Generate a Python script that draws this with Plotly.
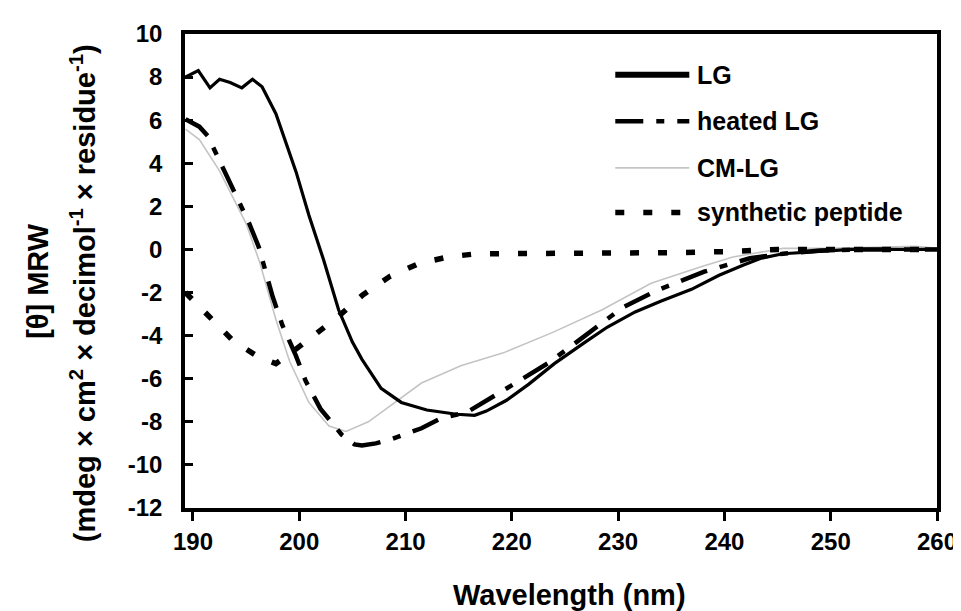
import plotly.graph_objects as go

# ---- data ----
lg_x = [189.3, 190.5, 191.6, 192.5, 193.5, 194.6, 195.6, 196.5, 197.8, 199.7, 200.9, 202.3,
        203.7, 205.0, 205.9, 207.7, 209.6, 212.0, 214.8, 216.5, 217.6, 219.5, 221.6, 224.0,
        226.9, 229.0, 231.6, 234.0, 236.9, 239.5, 241.8, 243.5, 245.5, 248.6, 252.0, 256.0, 260.0]
lg_y = [8.0, 8.3, 7.5, 7.9, 7.75, 7.5, 7.9, 7.55, 6.3, 3.6, 1.6, -0.5,
        -2.8, -4.3, -5.1, -6.45, -7.1, -7.45, -7.65, -7.7, -7.5, -7.0, -6.25, -5.3,
        -4.3, -3.6, -2.9, -2.4, -1.85, -1.2, -0.72, -0.4, -0.2, -0.1, 0.0, 0.0, 0.0]

heated_x = [189.3, 190.6, 191.4, 192.8, 194.0, 195.3, 196.2, 197.5, 198.4, 199.7, 200.6, 202.0,
            204.0, 205.2, 205.9, 207.2, 208.7, 211.5, 213.3, 215.8, 218.9, 221.0, 223.5, 226.9,
            230.4, 233.8, 238.1, 242.4, 245.5, 249.0, 253.0, 260.0]
heated_y = [6.04, 5.7, 5.26, 3.8, 2.5, 1.2, 0.1, -2.2, -3.5, -4.95, -6.1, -7.4,
            -8.6, -9.05, -9.1, -9.0, -8.8, -8.3, -7.85, -7.55, -6.63, -6.0, -5.25, -4.0,
            -2.7, -1.87, -1.03, -0.41, -0.2, -0.05, 0.0, 0.0]

cm_x = [189.3, 190.6, 192.5, 195.0, 196.3, 197.8, 199.1, 200.9, 202.8, 204.4, 206.5, 209.0,
        211.5, 215.2, 219.2, 223.8, 228.5, 233.1, 237.8, 240.8, 245.5, 250.0, 255.0, 258.0, 260.0]
cm_y = [5.58, 5.1, 3.65, 1.2, -0.63, -3.25, -5.2, -7.1, -8.2, -8.45, -8.0, -7.1,
        -6.2, -5.4, -4.8, -3.86, -2.8, -1.57, -0.8, -0.35, 0.05, 0.05, 0.1, 0.15, 0.05]

pep_x = [189.3, 190.5, 191.6, 193.8, 196.2, 197.8, 199.5, 201.5, 203.7, 206.0, 208.5, 211.3,
         214.1, 216.7, 220.0, 225.0, 230.0, 235.0, 240.0, 245.0, 250.0, 255.0, 260.0]
pep_y = [-2.0, -2.6, -3.1, -4.25, -5.0, -5.3, -4.7, -3.95, -3.1, -2.1, -1.26, -0.64,
         -0.34, -0.2, -0.2, -0.2, -0.15, -0.15, -0.1, 0.0, 0.0, 0.0, 0.0]

series_names = ["LG", "heated LG", "CM-LG", "synthetic peptide"]
x_ticks = [190, 200, 210, 220, 230, 240, 250, 260]
y_ticks = [10, 8, 6, 4, 2, 0, -2, -4, -6, -8, -10, -12]

FONT = "Liberation Sans, Arial, sans-serif"

styles = [
    dict(color="black", width=3.2, dash="solid"),
    dict(color="black", width=4.5, dash="28px,13px,8px,13px"),
    dict(color="#c4c4c4", width=1.6, dash="solid"),
    dict(color="black", width=5.5, dash="9px,19px"),
]

fig = go.Figure()
for name, xs, ys, st in zip(series_names, [lg_x, heated_x, cm_x, pep_x],
                            [lg_y, heated_y, cm_y, pep_y], styles):
    fig.add_trace(go.Scatter(x=xs, y=ys, mode="lines", name=name, line=st,
                             showlegend=False))

# draw order: put LG on top
fig.data = (fig.data[2], fig.data[3], fig.data[1], fig.data[0])

W, H = 961, 611
ML, MR, MT, MB = 177, 22, 22, 111
PW, PH = W - ML - MR, H - MT - MB


def px(xp):
    return (xp - ML) / PW


def py(yp):
    return (H - MB - yp) / PH


# ---- manual legend ----
leg_y = [63, 110, 157, 202]
for name, st, yp in zip(series_names, styles, leg_y):
    lw = 6 if name == "LG" else st["width"]
    fig.add_shape(type="line", xref="paper", yref="paper",
                  x0=px(613), x1=px(688), y0=py(yp), y1=py(yp),
                  line=dict(color=st["color"], width=lw, dash=st["dash"]))
    fig.add_annotation(xref="paper", yref="paper", x=px(694), y=py(yp),
                       text=name, showarrow=False, xanchor="left", yanchor="middle",
                       font=dict(family=FONT, size=25, color="black", weight="bold"))

# ---- axis titles as annotations ----
fig.add_annotation(xref="paper", yref="paper", x=px(567), y=py(588),
                   text="Wavelength (nm)", showarrow=False, xanchor="center", yanchor="middle",
                   font=dict(family=FONT, size=29, color="black", weight="bold"))
fig.add_annotation(xref="paper", yref="paper", x=px(28), y=py(271),
                   text="[θ] MRW", showarrow=False, textangle=-90,
                   xanchor="center", yanchor="middle",
                   font=dict(family=FONT, size=29, color="black", weight="bold"))
fig.add_annotation(xref="paper", yref="paper", x=px(73), y=py(283),
                   text="(mdeg × cm<sup>2</sup> × decimol<sup>-1</sup> × residue<sup>-1</sup>)",
                   showarrow=False, textangle=-90, xanchor="center", yanchor="middle",
                   font=dict(family=FONT, size=29, color="black", weight="bold"))

fig.update_layout(
    width=W, height=H,
    margin=dict(l=ML, r=MR, t=MT, b=MB),
    paper_bgcolor="white", plot_bgcolor="white",
    showlegend=False,
    font=dict(family=FONT, color="black"),
)
fig.update_xaxes(range=[189.25, 260], tickvals=x_ticks, ticktext=[str(v) for v in x_ticks],
                 showgrid=False, zeroline=False, showline=True, mirror=True,
                 linecolor="black", linewidth=3.5, ticks="outside", ticklen=9,
                 tickwidth=3, tickcolor="black",
                 tickfont=dict(family=FONT, size=24, color="black", weight="bold"))
fig.update_yaxes(range=[-12, 10], tickvals=y_ticks, ticktext=[str(v) for v in y_ticks],
                 showgrid=False, zeroline=False, showline=True, mirror=True,
                 linecolor="black", linewidth=3.5, ticks="inside", ticklen=8,
                 tickwidth=3, tickcolor="black", ticklabelstandoff=14,
                 tickfont=dict(family=FONT, size=24, color="black", weight="bold"))

fig.write_html("out.html")
